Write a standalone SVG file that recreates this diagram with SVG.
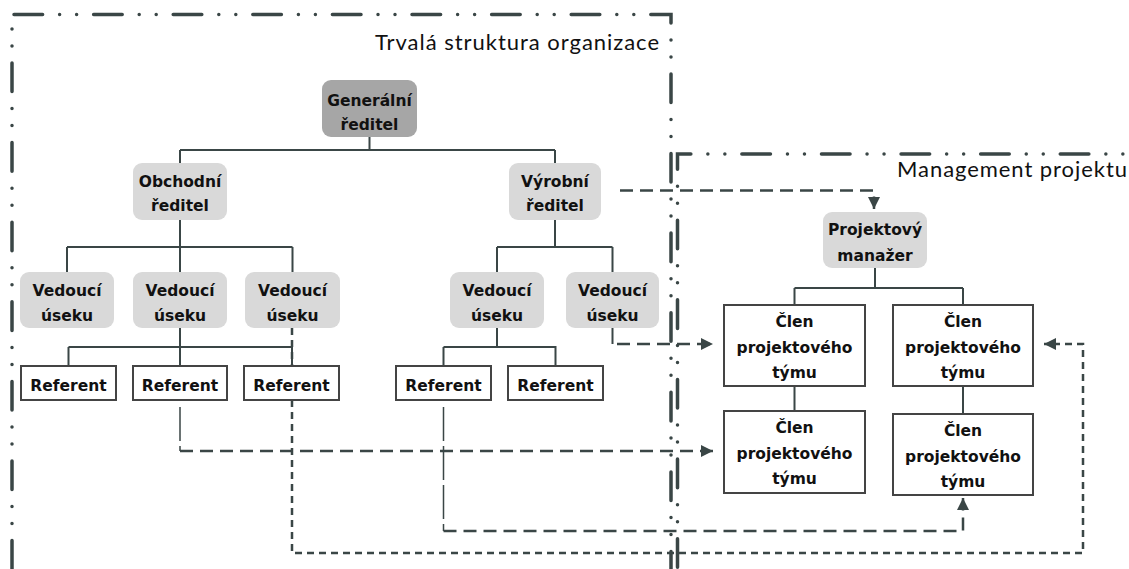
<svg xmlns="http://www.w3.org/2000/svg" width="1129" height="569" viewBox="0 0 1129 569">
<defs>
<marker id="ah" viewBox="0 0 10 10" refX="10" refY="5" markerWidth="12" markerHeight="12" markerUnits="userSpaceOnUse" orient="auto"><path d="M0,0 L10,5 L0,10 z" fill="#3a4646"/></marker>
<style>
.frame{fill:none;stroke:#3a4646;stroke-width:3.5;stroke-linecap:round;stroke-linejoin:miter;stroke-dasharray:28.6 17 0 17 0 17}
.tree{fill:none;stroke:#3a4646;stroke-width:2}
.dl{fill:none;stroke:#3a4646;stroke-width:2.5;stroke-dasharray:13 7}
.ds{fill:none;stroke:#3a4646;stroke-width:2.5;stroke-dasharray:7 5}
.vt{fill:none;stroke:#3a4646;stroke-width:1.5;stroke-dasharray:34 5}
.gbox{fill:#d9d9d9}
.gdark{fill:#a6a6a6}
.wbox{fill:#fff;stroke:#444;stroke-width:2}
.t{font-family:"DejaVu Sans",sans-serif;font-weight:bold;font-size:15.5px;fill:#111;text-anchor:middle}
.lab{font-family:Lato,"Liberation Sans",sans-serif;font-weight:400;font-size:22px;fill:#111}
</style>
</defs>
<rect width="1129" height="569" fill="#fff"/>
<g id="frames">
<path class="frame" d="M12,14.5 H671 V580" stroke-dashoffset="-2"/>
<path class="frame" d="M12,14.5 V580" stroke-dashoffset="31.1"/>
<path class="frame" d="M677.5,600 V154 H1140" stroke-dashoffset="46.85"/>
<text class="lab" x="659" y="50" text-anchor="end" textLength="284">Trvalá struktura organizace</text>
<text class="lab" x="897" y="177" textLength="230">Management projektu</text>
</g>
<g id="connectors">
<path class="tree" d="M369.5,137 V150 M180,150 H555 M180,150 V163 M555,150 V163"/>
<path class="tree" d="M180,220 V247 M67,247 H292.5 M67,247 V272 M180,247 V272 M292.5,247 V272"/>
<path class="tree" d="M555,220 V247 M497,247 H612.5 M497,247 V272 M612.5,247 V272"/>
<path class="tree" d="M180,328 V347 M68.5,347 H292 M68.5,347 V366 M180,347 V366 M292,347 V366"/>
<path class="tree" d="M497,328 V347 M443.5,347 H555.5 V366 M443.5,347 V366"/>
<path class="tree" d="M875,268 V288 M794.5,288 H963 M794.5,288 V305 M963,288 V305"/>
<path class="tree" d="M794.5,386 V411 M963,386 V414"/>
<path class="dl" d="M620,190.5 H874 V209" marker-end="url(#ah)"/>
<path class="tree" d="M612.5,328 V344" stroke-width="1.5"/>
<path class="dl" d="M617,344 H713" marker-end="url(#ah)"/>
<path class="vt" d="M180,407 V451"/>
<path class="dl" d="M180,451 H713" marker-end="url(#ah)"/>
<path class="vt" d="M443.5,407 V531"/>
<path class="dl" d="M443.5,531 H963 V498" marker-end="url(#ah)"/>
<path class="ds" d="M292,328 V366"/>
<path class="ds" d="M292,400 V553 H1083 V344 H1044" marker-end="url(#ah)"/>
</g>
<g id="n-generalni"><rect class="gdark" x="322" y="80" width="95" height="57" rx="9"/><text class="t" x="369.5" y="106">Generální</text><text class="t" x="369.5" y="130">ředitel</text></g>
<g id="n-obchodni"><rect class="gbox" x="133" y="163" width="94" height="57" rx="9"/><text class="t" x="180" y="187">Obchodní</text><text class="t" x="180" y="211">ředitel</text></g>
<g id="n-vyrobni"><rect class="gbox" x="509" y="163" width="92" height="57" rx="9"/><text class="t" x="555" y="187">Výrobní</text><text class="t" x="555" y="211">ředitel</text></g>
<g id="n-v1"><rect class="gbox" x="20" y="272" width="94" height="56" rx="9"/><text class="t" x="67" y="296">Vedoucí</text><text class="t" x="67" y="321">úseku</text></g>
<g id="n-v2"><rect class="gbox" x="133" y="272" width="94" height="56" rx="9"/><text class="t" x="180" y="296">Vedoucí</text><text class="t" x="180" y="321">úseku</text></g>
<g id="n-v3"><rect class="gbox" x="245" y="272" width="95" height="56" rx="9"/><text class="t" x="292.5" y="296">Vedoucí</text><text class="t" x="292.5" y="321">úseku</text></g>
<g id="n-v4"><rect class="gbox" x="450" y="272" width="94" height="56" rx="9"/><text class="t" x="497" y="296">Vedoucí</text><text class="t" x="497" y="321">úseku</text></g>
<g id="n-v5"><rect class="gbox" x="566" y="272" width="93" height="56" rx="9"/><text class="t" x="612.5" y="296">Vedoucí</text><text class="t" x="612.5" y="321">úseku</text></g>
<g id="n-r1"><rect class="wbox" x="21" y="366" width="95" height="34"/><text class="t" x="68.5" y="391">Referent</text></g>
<g id="n-r2"><rect class="wbox" x="133" y="366" width="94" height="34"/><text class="t" x="180" y="391">Referent</text></g>
<g id="n-r3"><rect class="wbox" x="244" y="366" width="95" height="34"/><text class="t" x="291.5" y="391">Referent</text></g>
<g id="n-r4"><rect class="wbox" x="396" y="366" width="95" height="34"/><text class="t" x="443.5" y="391">Referent</text></g>
<g id="n-r5"><rect class="wbox" x="508" y="366" width="95" height="34"/><text class="t" x="555.5" y="391">Referent</text></g>
<g id="n-pm"><rect class="gbox" x="823" y="212" width="104" height="56" rx="9"/><text class="t" x="875" y="235">Projektový</text><text class="t" x="875" y="261">manažer</text></g>
<g id="n-c1"><rect class="wbox" x="724" y="305" width="141" height="81"/><text class="t" x="794.5" y="327">Člen</text><text class="t" x="794.5" y="353">projektového</text><text class="t" x="794.5" y="378">týmu</text></g>
<g id="n-c2"><rect class="wbox" x="893" y="305" width="140" height="81"/><text class="t" x="963" y="327">Člen</text><text class="t" x="963" y="353">projektového</text><text class="t" x="963" y="378">týmu</text></g>
<g id="n-c3"><rect class="wbox" x="724" y="411" width="141" height="82"/><text class="t" x="794.5" y="433">Člen</text><text class="t" x="794.5" y="459">projektového</text><text class="t" x="794.5" y="484">týmu</text></g>
<g id="n-c4"><rect class="wbox" x="893" y="414" width="140" height="81"/><text class="t" x="963" y="436">Člen</text><text class="t" x="963" y="462">projektového</text><text class="t" x="963" y="487">týmu</text></g>
</svg>
